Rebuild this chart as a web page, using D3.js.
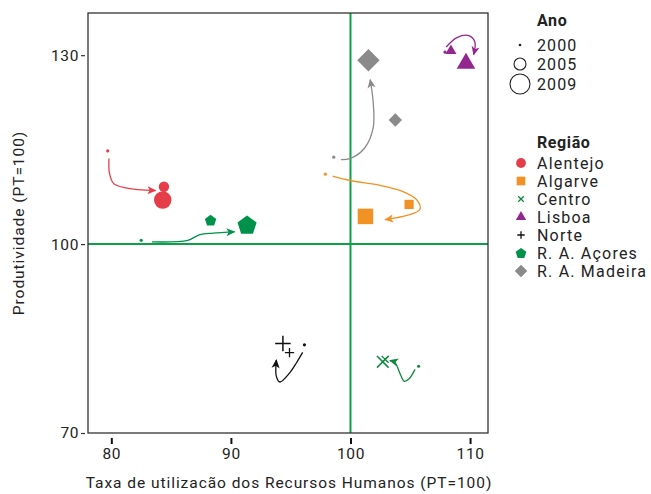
<!DOCTYPE html>
<html><head><meta charset="utf-8">
<script src="https://cdn.jsdelivr.net/npm/d3@7"></script>
<style>body{margin:0;background:#fff}svg{display:block}text{font-family:Roboto,"DejaVu Sans",sans-serif;fill:#222}</style>
</head><body><svg id="c" width="651" height="494"></svg>
<script>
const years = ["2000", "2005", "2009"];
const regions = ["Alentejo", "Algarve", "Centro", "Lisboa", "Norte", "R. A. Açores", "R. A. Madeira"];
const colors = ["#e63e48", "#f39224", "#0d8a3e", "#92278f", "#111111", "#00924a", "#8a8a8a"];
const shapes = ["circle", "square", "cross", "triangle", "plus", "pentagon", "diamond"];
const x2000 = [79.7, 97.9, 105.7, 107.9, 96.15, 82.5, 98.6];
const y2000 = [114.8, 111.1, 80.6, 130.5, 84.0, 100.6, 113.8];
const x2005 = [84.4, 104.9, 102.9, 108.4, 94.9, 88.3, 103.75];
const y2005 = [109.1, 106.3, 81.7, 130.7, 82.75, 103.8, 119.7];
const x2009 = [84.3, 101.25, 102.7, 109.66, 94.35, 91.35, 101.5];
const y2009 = [107.0, 104.4, 81.3, 128.7, 84.2, 103.1, 129.2];
// trajectory (arrow) points per region
const trajX = [
  [79.8, 79.85, 80.2, 81.3, 83.7],
  [98.5, 100.0, 102.3, 104.3, 105.6, 105.8, 104.8, 102.9],
  [105.4, 104.9, 104.5, 104.15, 103.9, 103.7, 103.3],
  [108.0, 108.9, 109.9, 110.4, 110.3],
  [96.0, 95.5, 94.9, 94.1, 93.8, 93.8],
  [83.4, 86.4, 87.4, 88.5, 90.3],
  [99.2, 100.0, 101.2, 101.9, 101.9, 101.65]
];
const trajY = [
  [113.6, 111.2, 109.6, 108.9, 108.5],
  [110.8, 110.1, 109.4, 108.4, 106.9, 105.5, 104.6, 103.9],
  [80.1, 78.6, 78.2, 79.4, 80.6, 81.2, 81.5],
  [131.3, 132.8, 133.1, 132.1, 130.1],
  [82.8, 81.2, 79.5, 78.1, 79.0, 81.6],
  [100.35, 100.6, 101.5, 101.75, 101.95],
  [113.4, 113.6, 115.3, 118.5, 122.5, 126.1]
];
const xTicks = [80, 90, 100, 110];
const yTicks = [70, 100, 130];
const yearSizes = [8, 85, 240];

const svg = d3.select("#c");
const L = 88, R = 488, T = 13, B = 433;
const x = d3.scaleLinear().domain([78.05, 111.5]).range([L, R]);
const y = d3.scaleLinear().domain([70, 136.7]).range([B, T]);

// reference lines
svg.append("line").attr("x1", x(100)).attr("x2", x(100)).attr("y1", T).attr("y2", B)
  .attr("stroke", "#0aa14a").attr("stroke-width", 2);
svg.append("line").attr("x1", L).attr("x2", R).attr("y1", y(100)).attr("y2", y(100))
  .attr("stroke", "#0aa14a").attr("stroke-width", 2);

// panel border
svg.append("rect").attr("x", L).attr("y", T).attr("width", R - L).attr("height", B - T)
  .attr("fill", "none").attr("stroke", "#333").attr("stroke-width", 1.3);

// axes
const yAxis = d3.axisLeft(y).tickValues(yTicks).tickSize(4).tickPadding(2);
const gy = svg.append("g").attr("transform", `translate(${L - 3},0)`).call(yAxis);
gy.select(".domain").remove();
gy.selectAll("line").attr("stroke", "#333").attr("stroke-width", 1.2);
gy.selectAll("text").attr("font-size", 15.5).attr("fill", "#333").attr("letter-spacing", 0.6).style("font-family", "Roboto, sans-serif");

const xAxis = d3.axisBottom(x).tickValues(xTicks).tickSize(6).tickPadding(4);
const gx = svg.append("g").attr("transform", `translate(0,${B + 5})`).call(xAxis);
gx.select(".domain").remove();
gx.selectAll("line").attr("stroke", "#111").attr("stroke-width", 2);
gx.selectAll("text").attr("font-size", 15.5).attr("fill", "#333").attr("letter-spacing", 0.6).style("font-family", "Roboto, sans-serif");

svg.append("text").attr("x", (L + R) / 2 + 1).attr("y", 488).attr("text-anchor", "middle")
  .attr("font-size", 15.5).attr("letter-spacing", 0.95).attr("fill", "#333").text("Taxa de utilizacão dos Recursos Humanos (PT=100)");
svg.append("text").attr("transform", `translate(24,${(T + B) / 2}) rotate(-90)`).attr("text-anchor", "middle")
  .attr("font-size", 15.5).attr("letter-spacing", 0.95).attr("fill", "#333").text("Produtividade (PT=100)");

// markers
const defs = svg.append("defs");
colors.forEach((c, i) => {
  defs.append("marker").attr("id", "ar" + i).attr("viewBox", "0 0 10 10").attr("refX", 9).attr("refY", 5)
    .attr("markerWidth", 11).attr("markerHeight", 9).attr("markerUnits", "userSpaceOnUse")
    .attr("orient", "auto").append("path").attr("d", "M0,0.5 L10,5 L0,9.5 L2.5,5 Z").attr("fill", c);
});

// trajectories
const line = d3.line().curve(d3.curveCatmullRom.alpha(0.5));
regions.forEach((r, i) => {
  const pts = trajX[i].map((v, k) => [x(v), y(trajY[i][k])]);
  svg.append("path").attr("d", line(pts)).attr("fill", "none").attr("stroke", colors[i])
    .attr("stroke-width", 1.3).attr("marker-end", `url(#ar${i})`);
});

// custom pentagon
const symbolPentagon = {
  draw(ctx, size) {
    const r = Math.sqrt(size / 2.378);
    for (let k = 0; k < 5; k++) {
      const a = -Math.PI / 2 + k * 2 * Math.PI / 5;
      const px = r * Math.cos(a), py = r * Math.sin(a) + r * 0.1;
      if (k === 0) ctx.moveTo(px, py); else ctx.lineTo(px, py);
    }
    ctx.closePath();
  }
};
const symType = {circle: d3.symbolCircle, square: d3.symbolSquare, triangle: d3.symbolTriangle,
  diamond: d3.symbolSquare, pentagon: symbolPentagon, cross: d3.symbolX, plus: d3.symbolCross};
const sizeFactor = {circle: 1, square: 1, triangle: 0.62, diamond: 1.05, pentagon: 1};

function drawSymbol(g, shape, color, size, cx, cy, isDot) {
  if (isDot) {
    g.append("circle").attr("cx", cx).attr("cy", cy).attr("r", 1.6).attr("fill", color);
    return;
  }
  if (shape === "plus" || shape === "cross") {
    const h = Math.sqrt(size) * 0.5;
    const p = shape === "plus"
      ? `M${cx - h},${cy}H${cx + h}M${cx},${cy - h}V${cy + h}`
      : `M${cx - h * 0.75},${cy - h * 0.75}L${cx + h * 0.75},${cy + h * 0.75}M${cx - h * 0.75},${cy + h * 0.75}L${cx + h * 0.75},${cy - h * 0.75}`;
    g.append("path").attr("d", p).attr("stroke", color).attr("stroke-width", size > 100 ? 1.5 : 1.3).attr("fill", "none");
    return;
  }
  const s = d3.symbol().type(symType[shape]).size(size * sizeFactor[shape]);
  const t = shape === "diamond" ? `translate(${cx},${cy}) rotate(45)` : `translate(${cx},${cy})`;
  g.append("path").attr("d", s()).attr("transform", t).attr("fill", color);
}

const gp = svg.append("g");
const xs = [x2000, x2005, x2009], ys = [y2000, y2005, y2009];
regions.forEach((r, i) => {
  [1, 2, 0].forEach(k => {
    drawSymbol(gp, shapes[i], colors[i], yearSizes[k], x(xs[k][i]), y(ys[k][i]), k === 0);
  });
});

// legend
const lg = svg.append("g");
lg.append("text").attr("x", 537).attr("y", 26).attr("font-size", 16).attr("font-weight", "bold").attr("letter-spacing", 0.6).attr("fill", "#222").text("Ano");
const annoY = [45, 64, 84];
const annoR = [1.3, 6, 10];
years.forEach((yr, k) => {
  if (k === 0) lg.append("circle").attr("cx", 520).attr("cy", annoY[k]).attr("r", annoR[k]).attr("fill", "#222");
  else lg.append("circle").attr("cx", 520).attr("cy", annoY[k]).attr("r", annoR[k]).attr("fill", "none").attr("stroke", "#222").attr("stroke-width", 1.1);
  lg.append("text").attr("x", 537).attr("y", annoY[k] + 5.5).attr("font-size", 16).attr("letter-spacing", 1.1).attr("fill", "#222").text(yr);
});
lg.append("text").attr("x", 537).attr("y", 148).attr("font-size", 16).attr("font-weight", "bold").attr("letter-spacing", 0.6).attr("fill", "#222").text("Região");
regions.forEach((r, i) => {
  const cy = 163 + i * 18;
  drawSymbol(lg, shapes[i], colors[i], shapes[i] === "plus" || shapes[i] === "cross" ? 55 : 75, 521, cy, false);
  lg.append("text").attr("x", 537).attr("y", cy + 5.5).attr("font-size", 16).attr("letter-spacing", 1.2).attr("fill", "#222").text(r);
});
</script></body></html>
